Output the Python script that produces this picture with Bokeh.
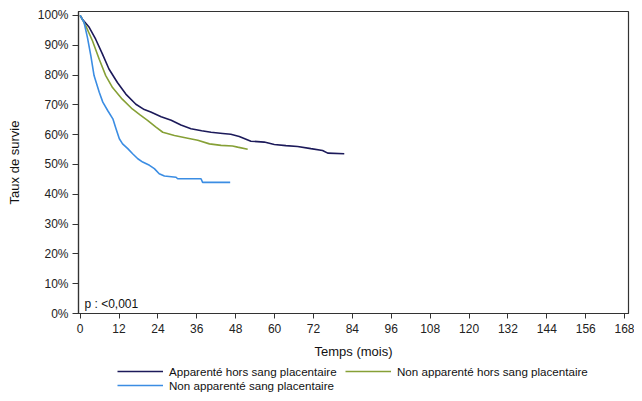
from bokeh.plotting import figure
from bokeh.layouts import column
from bokeh.models import Legend, LegendItem, Label, FixedTicker, CustomJSTickFormatter, Range1d
from bokeh.embed import file_html
from bokeh.resources import INLINE

# Data (time in months, survival in %)
t_app = [0, 0.7, 2.8, 4.8, 6.9, 8.9, 11.5, 14.1, 17.2, 19.8, 21.8, 25.0, 28.1, 31.1, 34.2, 37.5, 40.4, 44.0, 46.5, 49.1, 52.7, 56.8, 59.9, 63.5, 67.1, 71.2, 74.8, 76.4, 81.5]
s_app = [100, 98.7, 96.0, 92.0, 87.0, 82.0, 77.5, 73.6, 70.2, 68.4, 67.6, 66.0, 64.8, 63.2, 62.0, 61.3, 60.8, 60.4, 60.1, 59.4, 57.8, 57.5, 56.7, 56.3, 56.0, 55.3, 54.7, 53.8, 53.6]

t_nahs = [0, 1.75, 3.8, 5.9, 7.9, 10.0, 13.0, 16.1, 18.5, 20.8, 23.4, 25.5, 29.1, 33.2, 36.3, 39.9, 43.5, 47.0, 48.6, 51.7]
s_nahs = [100, 96.5, 91.5, 85.3, 79.8, 75.8, 71.9, 68.6, 66.6, 64.8, 62.5, 60.8, 59.7, 58.8, 58.1, 56.9, 56.4, 56.2, 55.8, 55.1]

t_nasp = [0, 1.2, 2.25, 3.3, 4.3, 5.9, 7.0, 8.5, 10.1, 11.1, 12.1, 13.1, 14.7, 16.2, 17.8, 19.3, 21.4, 22.9, 24.4, 26.0, 29.6, 30.1, 37.3, 37.8, 46.3]
s_nasp = [100, 97.7, 92.6, 86.5, 79.8, 74.2, 70.9, 68.1, 65.3, 61.9, 58.6, 56.9, 55.3, 53.6, 51.9, 50.8, 49.7, 48.6, 46.9, 46.1, 45.7, 45.2, 45.2, 44.0, 44.0]

labels = ["Apparenté hors sang placentaire",
          "Non apparenté hors sang placentaire",
          "Non apparenté sang placentaire"]
colors = ["#1c1a5a", "#86a036", "#3b8de3"]

x_ticks = list(range(0, 169, 12))
y_ticks = list(range(0, 101, 10))
p_text = "p : <0,001"

FONT = "Liberation Sans"
LW = 1.6

p = figure(width=634, height=363, output_backend="svg", toolbar_location=None,
           x_range=Range1d(-0.5, 169.2), y_range=Range1d(0, 101.3),
           min_border_left=78, min_border_top=11, min_border_right=6, min_border_bottom=50)
p.grid.visible = False
p.outline_line_color = "#333333"
p.outline_line_width = 1.2
p.background_fill_color = "white"

p.line(t_app, s_app, line_color=colors[0], line_width=LW)
p.line(t_nahs, s_nahs, line_color=colors[1], line_width=LW)
p.line(t_nasp, s_nasp, line_color=colors[2], line_width=LW)

for ax in (p.xaxis[0], p.yaxis[0]):
    ax.axis_line_color = "#333333"
    ax.axis_line_width = 1.2
    ax.major_tick_line_color = "#333333"
    ax.major_tick_in = 0
    ax.minor_tick_line_color = None
    ax.major_label_text_font = FONT
    ax.major_label_text_font_size = "12px"
    ax.major_label_text_color = "#222222"
    ax.axis_label_text_font = FONT
    ax.axis_label_text_font_size = "13px"
    ax.axis_label_text_font_style = "normal"
    ax.axis_label_text_color = "#111111"

p.xaxis.ticker = FixedTicker(ticks=x_ticks)
p.xaxis.major_tick_out = 5
p.xaxis.major_label_standoff = 5
p.xaxis.axis_label = "Temps (mois)"
p.xaxis.axis_label_standoff = 8

p.yaxis.ticker = FixedTicker(ticks=y_ticks)
p.yaxis.formatter = CustomJSTickFormatter(code="return tick.toFixed(0) + '%';")
p.yaxis.major_tick_out = 6
p.yaxis.major_label_standoff = 4
p.yaxis.axis_label = "Taux de survie"
p.yaxis.axis_label_standoff = 13

p.add_layout(Label(x=6, y=10, x_units="screen", y_units="screen", text=p_text,
                   text_font=FONT, text_font_size="12px", text_color="#111111",
                   text_baseline="middle"))

# Legend strip below the chart: same series drawn again but outside the strip's
# visible ranges, so only the legend entries show.
q = figure(width=634, height=32, output_backend="svg", toolbar_location=None,
           x_axis_type=None, y_axis_type=None,
           x_range=Range1d(1000, 1001), y_range=Range1d(1000, 1001),
           min_border_left=0, min_border_right=0, min_border_top=0, min_border_bottom=0)
q.grid.visible = False
q.outline_line_color = None
g1 = q.line(t_app, s_app, line_color=colors[0], line_width=LW)
g2 = q.line(t_nahs, s_nahs, line_color=colors[1], line_width=LW)
g3 = q.line(t_nasp, s_nasp, line_color=colors[2], line_width=LW)

legend = Legend(items=[LegendItem(label=labels[0], renderers=[g1]),
                       LegendItem(label=labels[2], renderers=[g3]),
                       LegendItem(label=labels[1], renderers=[g2])],
                orientation="vertical", nrows=2, location=(39, 3),
                label_text_font=FONT, label_text_font_size="11.6px",
                label_text_color="#111111", label_width=176,
                glyph_width=46, glyph_height=14, label_height=14, label_standoff=6,
                spacing=0, padding=0, margin=0, border_line_color=None,
                background_fill_alpha=0)
q.add_layout(legend)

open("out.html", "w").write(file_html(column(p, q, spacing=0), INLINE))
